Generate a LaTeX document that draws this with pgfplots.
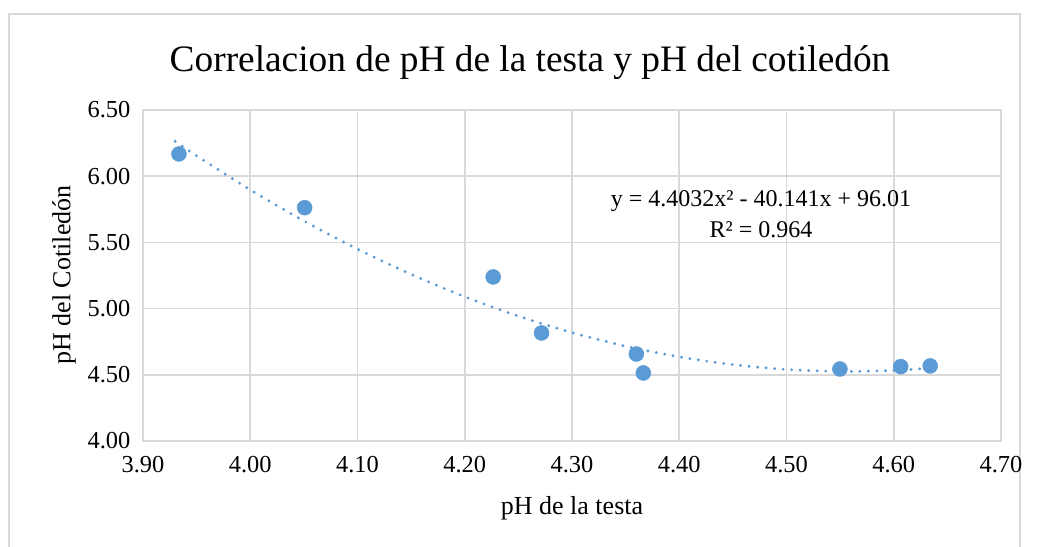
\documentclass[border=0pt]{standalone}
\usepackage{pgfplots}
\pgfplotsset{compat=1.18}
\usepackage{fontspec}
\setmainfont{Liberation Serif}
\definecolor{exblue}{HTML}{5B9BD5}
\definecolor{gridgray}{HTML}{D9D9D9}
\begin{document}
\begin{tikzpicture}[x=0.75pt,y=0.75pt]
\path[use as bounding box] (0,0) rectangle (1037,546);
% outer chart frame
\draw[gridgray,line width=1.2pt] (9,-5) -- (9,532) -- (1020,532) -- (1020,-5);
\begin{axis}[
  at={(143*0.75pt,105*0.75pt)}, anchor=south west,
  scale only axis, width=643.5pt, height=248.25pt,
  xmin=3.9, xmax=4.7, ymin=4.0, ymax=6.5,
  xtick={3.9,4.0,...,4.71}, ytick={4.0,4.5,...,6.51},
  grid=major, major grid style={gridgray,line width=1.2pt},
  axis line style={gridgray,line width=1.2pt},
  major tick length=0pt,
  /pgf/number format/assume math mode=true,
  xticklabel style={/pgf/number format/.cd,fixed,fixed zerofill,precision=2,/tikz/.cd,font=\fontsize{18.3}{20}\selectfont, yshift=-8pt},
  yticklabel style={/pgf/number format/.cd,fixed,fixed zerofill,precision=2,/tikz/.cd,font=\fontsize{18.3}{20}\selectfont, xshift=-6pt},
  clip=false,
]
\addplot[exblue, line width=2.4pt, line cap=round, dash pattern=on 0pt off 6.4pt, smooth] coordinates {
(3.93,6.2629) (3.95,6.1540) (4.00,5.8972) (4.05,5.6624) (4.10,5.4497) (4.15,5.2590)
(4.20,5.0903) (4.25,4.9436) (4.30,4.8189) (4.35,4.7162) (4.40,4.6356)
(4.45,4.5769) (4.50,4.5403) (4.55,4.5257) (4.60,4.5331) (4.635,4.5514)
};
\addplot[only marks, mark=*, mark size=5.6pt, mark options={draw=exblue, fill=exblue}] coordinates {
(3.9335,6.168) (4.0507,5.762) (4.2265,5.239) (4.2716,4.816) (4.3600,4.657)
(4.3665,4.514) (4.5498,4.544) (4.6065,4.562) (4.6340,4.567)
};
\end{axis}
\node[font=\fontsize{28}{32}\selectfont] at (530,483) {Correlacion de pH de la testa y pH del cotiledón};
\node[font=\fontsize{19.5}{22}\selectfont] at (572,38) {pH de la testa};
\node[font=\fontsize{19.5}{22}\selectfont, rotate=90] at (64,271) {pH del Cotiledón};
\node[font=\fontsize{18}{20}\selectfont, align=center, inner sep=0pt] at (761,332) {y = 4.4032x² - 40.141x + 96.01\\[3pt] R² = 0.964};
\end{tikzpicture}
\end{document}
